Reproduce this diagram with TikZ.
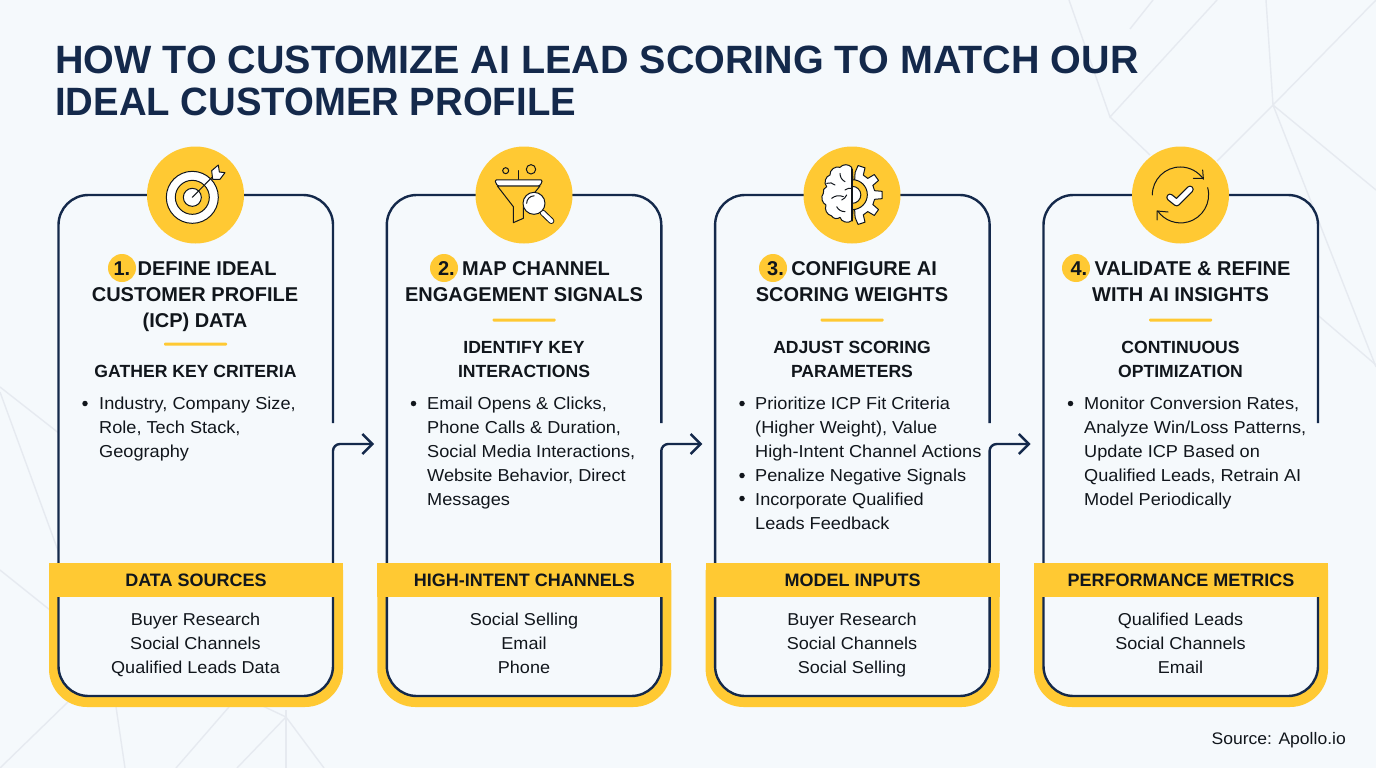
\documentclass[tikz,border=0pt]{standalone}
\usepackage{fontspec}
\usepackage{graphicx}
\setmainfont[FakeStretch=1.05]{Liberation Sans}
\newfontfamily\hv{Liberation Sans}
\usetikzlibrary{arrows.meta}
\definecolor{bgc}{HTML}{F5F9FC}
\definecolor{navy}{HTML}{14294B}
\definecolor{sun}{HTML}{FFC933}
\definecolor{ink}{HTML}{11161C}
\definecolor{bgl}{HTML}{E6EAF0}
\newcommand\hs{\rule{0pt}{19pt}}
\newcommand\bs{\rule{0pt}{18pt}}
\tikzset{
 bgline/.style={draw=bgl,line width=1.4pt},
 cardbox/.style={rectangle,fill=bgc,draw=none,rounded corners=30pt,minimum width=275pt,minimum height=501pt,inner sep=0pt},
 cardline/.style={draw=navy,line width=2.4pt,rounded corners=30pt},
 conn/.style={draw=navy,line width=2.4pt,rounded corners=7pt,-{Straight Barb[length=10pt,width=20pt,line width=2.4pt]}},
 disc/.style={circle,fill=sun,minimum size=97pt,inner sep=0pt},
 badge/.style={circle,fill=sun,minimum size=28pt,inner sep=0pt},
 rulemark/.style={rectangle,fill=sun,rounded corners=1pt,minimum width=63pt,minimum height=3pt,inner sep=0pt},
 band/.style={rectangle,fill=sun,minimum width=294pt,minimum height=34pt,inner sep=0pt,text=ink,font=\hv\bfseries\fontsize{18}{22}\selectfont},
 head/.style={anchor=north,inner sep=0pt,align=center,text=ink,font=\hv\bfseries\fontsize{20}{26}\selectfont},
 subhead/.style={anchor=north,inner sep=0pt,align=center,text=ink,font=\hv\bfseries\fontsize{17.6}{24}\selectfont},
 bullets/.style={anchor=north west,inner sep=0pt,align=left,text=ink,font=\fontsize{17.3}{24}\selectfont},
 centred/.style={anchor=north,inner sep=0pt,align=center,text=ink,font=\fontsize{17.2}{24}\selectfont},
 dot/.style={circle,fill=ink,minimum size=5.5pt,inner sep=0pt},
 ttl/.style={anchor=north west,inner sep=0pt,align=left,text=navy,font=\hv\bfseries\fontsize{39.5}{42}\selectfont},
 ic/.style={draw=ink,line width=1pt,line join=round,line cap=round},
}
% frame of one stage: #1 number, #2 horizontal shift
\newcommand\stageframe[2]{%
 \begin{scope}[shift={(#2,0)}]
  \node[cardbox] (card#1) at (195.5,445.5) {};
  \fill[sun,rounded corners=38pt] (49,570) -- (49,707) -- (343,707) -- (343,570);
  \fill[bgc,rounded corners=30pt] (58.5,590) -- (58.5,696) -- (333,696) -- (333,590);
  \draw[cardline] (58.5,570) -- (58.5,195) -- (333,195) -- (333,423);
  \draw[cardline] (58.5,590) -- (58.5,696) -- (333,696) -- (333,590);
  \coordinate (out#1) at (333,570);
  \coordinate (in#1) at (374,444);
 \end{scope}}
\begin{document}
\begin{tikzpicture}[x=1pt,y=-1pt]
\useasboundingbox (0,0) rectangle (1376,768);
\fill[bgc] (0,0) rectangle (1376,768);
% background web
\draw[bgline] (1069,0) -- (1110,117) -- (1217,0);
\draw[bgline] (1110,117) -- (1150,155);
\draw[bgline] (1130,29) -- (1153,0);
\draw[bgline] (1266,0) -- (1273,105) -- (1376,0);
\draw[bgline] (1217,161) -- (1273,105) -- (1376,190);
\draw[bgline] (1273,105) -- (1376,367);
\draw[bgline] (1300,300) -- (1376,365);
\draw[bgline] (0,387) -- (60,434);
\draw[bgline] (0,392) -- (60,556);
\draw[bgline] (0,570) -- (50,610);
\draw[bgline] (70,700) -- (0,768);
\draw[bgline] (115,700) -- (125,768);
\draw[bgline] (235,700) -- (176,768);
\draw[bgline] (250,700) -- (286,717) -- (237,768);
\draw[bgline] (286,768) -- (286,710);
\draw[bgline] (286,717) -- (324,768);
% stages
\stageframe{1}{0}
\stageframe{2}{328.3}
\stageframe{3}{656.6}
\stageframe{4}{985}
\draw[conn] (out1) |- (in1);
\draw[conn] (out2) |- (in2);
\draw[conn] (out3) |- (in3);
% title
\node[ttl] (title) at (55,44) {\rule{0pt}{29pt}HOW TO CUSTOMIZE AI LEAD SCORING TO MATCH OUR\\\scalebox{0.97}[1]{IDEAL CUSTOMER PROFILE}};
% discs
\node[disc] (disc1) at (195.5,195) {};
\node[disc] (disc2) at (524,195) {};
\node[disc] (disc3) at (852,195) {};
\node[disc] (disc4) at (1180.5,195) {};
% target icon
\begin{scope}[shift={(130,140)},x=0.3333pt,y=-0.3333pt]
 \draw[ic,fill=white] (187,172) circle[radius=26pt];
 \draw[ic,fill=sun] (187,172) circle[radius=17pt];
 \draw[ic,fill=white] (187,172) circle[radius=9pt];
 \draw[ic] (187,172) -- (250,108);
 \draw[ic,fill=white] (245,92) -- (265,75) -- (268,96) -- (285,98) -- (270,118) -- (248,118) -- cycle;
\end{scope}
% funnel icon
\begin{scope}[shift={(460,140)},x=0.3333pt,y=-0.3333pt]
 \draw[ic] (137,92) circle[radius=3pt];
 \draw[ic] (213,88) circle[radius=4.7pt];
 \draw[ic] (175,92) -- (175,118);
 \draw[ic,fill=sun] (112,138) -- (160,200) -- (160,248) -- (190,235) -- (190,200) -- (240,138) -- cycle;
 \draw[ic,fill=white,rounded corners=1.5pt] (104,120) -- (248,120) -- (240,138) -- (112,138) -- cycle;
 \draw[line width=6pt,ink,line cap=round] (248,218) -- (274,243);
 \draw[line width=4pt,white,line cap=round] (248,218) -- (274,243);
 \draw[ic,fill=white] (222,190) circle[radius=11pt];
 \draw[ic] (200,190) arc[start angle=180,end angle=90,radius=7.5pt];
\end{scope}
% brain and gear icon
\begin{scope}[shift={(790,140)},x=0.3333pt,y=-0.3333pt]
 \begin{scope}[shift={(187,165)}]
  \draw[ic,fill=white] (0,-78) \foreach \a in {72,36,0,-36,-72} { -- (\a+11:68) -- (\a+7:90) -- (\a-7:90) -- (\a-11:68) } -- (0,78) -- cycle;
  \draw[ic,fill=sun] (0,-46) arc[start angle=90,end angle=-90,radius=15pt] -- cycle;
  \draw[ic,fill=white] (0,-26) arc[start angle=90,end angle=-90,radius=8.5pt] -- cycle;
 \end{scope}
 \draw[ic,fill=white] (185,82) to[bend right=50] (150,82) to[bend right=60] (120,105) to[bend right=60] (110,140) to[bend right=40] (100,160) to[bend right=50] (108,195) to[bend right=50] (125,228) to[bend right=50] (150,232) to[bend right=60] (185,242) -- cycle;
 \draw[ic] (110,130) to[bend left=30] (135,135);
 \draw[ic] (150,100) to[bend right=30] (165,125);
 \draw[ic] (125,175) to[bend left=30] (160,170);
 \draw[ic] (165,150) to[bend left=20] (185,145);
 \draw[ic] (140,200) to[bend right=30] (165,215);
 \draw[ic] (155,180) to[bend right=20] (170,165);
\end{scope}
% sync icon
\begin{scope}[shift={(1120,140)},x=0.3333pt,y=-0.3333pt]
 \draw[ic] (97,165) arc[start angle=180,end angle=34,radius=28pt];
 \draw[ic] (263,143) arc[start angle=15,end angle=-145,radius=28pt];
 \draw[ic] (220,115) -- (250,115) -- (248,90);
 \draw[ic] (144,216) -- (111,213) -- (111,240);
 \draw[line width=7.5pt,ink,line cap=round,line join=round] (150,172) -- (170,188) -- (210,148);
 \draw[line width=5pt,white,line cap=round,line join=round] (150,172) -- (170,188) -- (210,148);
\end{scope}
% badges
\node[badge] (b1) at (122,268) {};
\node[badge] (b2) at (444,268) {};
\node[badge] (b3) at (773,268) {};
\node[badge] (b4) at (1076,268) {};
% stage 1
\node[head] (h1) at (195,256.5) {\hs 1. DEFINE IDEAL\\CUSTOMER PROFILE\\(ICP) DATA};
\node[rulemark] (r1) at (195.5,344) {};
\node[subhead] (s1) at (195.5,359.5) {\bs GATHER KEY CRITERIA};
\node[dot] (d1) at (85,403.5) {};
\node[bullets] (t1) at (99,391) {\bs Industry, Company Size,\\Role, Tech Stack,\\Geography};
\node[band] (band1) at (196,580) {DATA SOURCES};
\node[centred] (l1) at (195.5,607) {\bs Buyer Research\\Social Channels\\Qualified Leads Data};
% stage 2
\node[head] (h2) at (524,256.5) {\hs 2. MAP CHANNEL\\ENGAGEMENT SIGNALS};
\node[rulemark] (r2) at (524,320) {};
\node[subhead] (s2) at (524,335.5) {\bs IDENTIFY KEY\\INTERACTIONS};
\node[dot] (d2) at (413.5,403.5) {};
\node[bullets] (t2) at (427,391) {\bs Email Opens \& Clicks,\\Phone Calls \& Duration,\\Social Media Interactions,\\Website Behavior, Direct\\Messages};
\node[band] (band2) at (524.3,580) {HIGH-INTENT CHANNELS};
\node[centred] (l2) at (524,607) {\bs Social Selling\\Email\\Phone};
% stage 3
\node[head] (h3) at (852,256.5) {\hs 3. CONFIGURE AI\\SCORING WEIGHTS};
\node[rulemark] (r3) at (852,320) {};
\node[subhead] (s3) at (852,335.5) {\bs ADJUST SCORING\\PARAMETERS};
\node[dot] (d3a) at (742,403.5) {};
\node[dot] (d3b) at (742,475.5) {};
\node[dot] (d3c) at (742,498.5) {};
\node[bullets] (t3) at (755,391) {\bs Prioritize ICP Fit Criteria\\(Higher Weight), Value\\High-Intent Channel Actions\\Penalize Negative Signals\\Incorporate Qualified\\Leads Feedback};
\node[band] (band3) at (852.6,580) {MODEL INPUTS};
\node[centred] (l3) at (852,607) {\bs Buyer Research\\Social Channels\\Social Selling};
% stage 4
\node[head] (h4) at (1180.5,256.5) {\hs 4. VALIDATE \& REFINE\\WITH AI INSIGHTS};
\node[rulemark] (r4) at (1180.5,320) {};
\node[subhead] (s4) at (1180.5,335.5) {\bs CONTINUOUS\\OPTIMIZATION};
\node[dot] (d4) at (1070.5,403.5) {};
\node[bullets] (t4) at (1084,391) {\bs Monitor Conversion Rates,\\Analyze Win/Loss Patterns,\\Update ICP Based on\\Qualified Leads, Retrain AI\\Model Periodically};
\node[band] (band4) at (1181,580) {PERFORMANCE METRICS};
\node[centred] (l4) at (1180.5,607) {\bs Qualified Leads\\Social Channels\\Email};
% source
\node[anchor=east,inner sep=0pt,text=ink,font=\fontsize{16.7}{20}\selectfont] (src) at (1346,740.5) {Source: Apollo.io};
\end{tikzpicture}
\end{document}
